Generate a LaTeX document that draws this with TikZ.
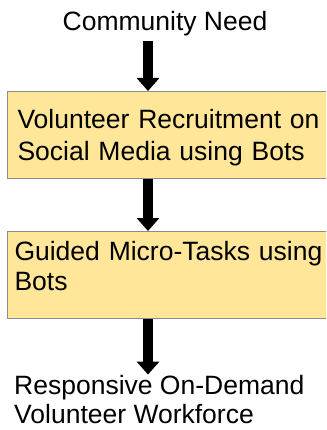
\documentclass[tikz,border=0pt]{standalone}
\usepackage{fontspec}
\setmainfont{Liberation Sans}
\usetikzlibrary{arrows.meta}
\definecolor{boxfill}{RGB}{255,230,153}
\definecolor{boxline}{RGB}{140,140,140}
\newcommand{\topstrut}[1]{\rule{0pt}{#1}}
\newcommand{\botstrut}[1]{\rule[-#1]{0pt}{#1}}
\tikzset{
  txt/.style={inner sep=0pt, align=left, font=\fontsize{26.5pt}{30pt}\selectfont},
  stepbox/.style={draw=boxline, line width=1pt, fill=boxfill, anchor=north west,
     inner ysep=0pt, align=left, text width=318pt},
  arr/.style={line width=10pt, -{Triangle[width=22pt,length=13pt]}}
}
\begin{document}
\begin{tikzpicture}[x=1pt,y=1pt]
\useasboundingbox (0,0) rectangle (326,-430);
\clip (0,0) rectangle (326,-430);
\coordinate (ax) at (148,0);
\node[txt, anchor=base] (cn) at (165,-31) {Community Need};
\node[stepbox, inner xsep=10pt, font=\fontsize{26.5pt}{32pt}\selectfont] (b1) at (7,-91)
  {\topstrut{37pt}Volunteer Recruitment on\\Social Media using Bots\botstrut{18pt}};
\node[stepbox, inner xsep=7pt, font=\fontsize{26.5pt}{30pt}\selectfont] (b2) at (7,-231)
  {\topstrut{29pt}Guided Micro-Tasks using\\Bots\botstrut{28pt}};
\node[txt, anchor=base west, font=\fontsize{26.5pt}{29pt}\selectfont] (r) at (14,-423)
  {Responsive On-Demand\\Volunteer Workforce};
\draw[arr, shorten <=4pt] (cn.south -| ax) -- (b1.north -| ax);
\draw[arr] (b1.south -| ax) -- (b2.north -| ax);
\draw[arr] (b2.south -| ax) -- (r.north -| ax);
\end{tikzpicture}
\end{document}
